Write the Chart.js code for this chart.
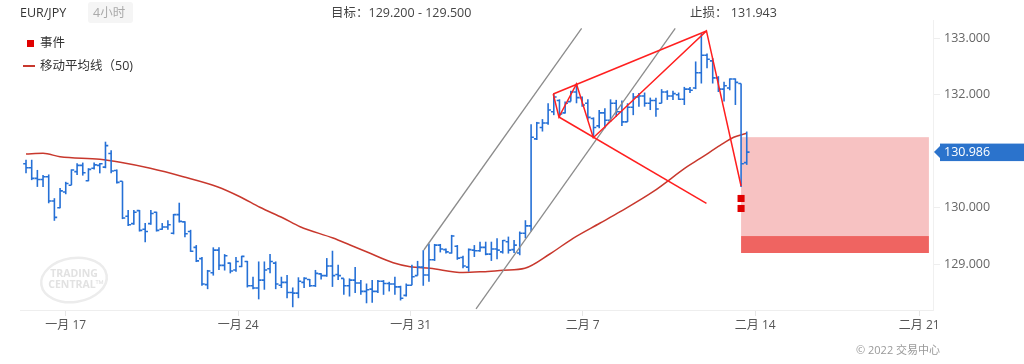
<!DOCTYPE html>
<html><head><meta charset="utf-8">
<script src="https://cdn.jsdelivr.net/npm/chart.js@4/dist/chart.umd.min.js"></script>
<style>
html,body{margin:0;padding:0;background:#fff;width:1024px;height:364px;overflow:hidden;font-family:'Open Sans','Noto Sans CJK SC',sans-serif;}
#wrap{position:relative;width:1024px;height:364px;}
canvas{position:absolute;left:0;top:0;}
.t{position:absolute;font-size:12px;white-space:nowrap;line-height:14px;}
</style></head><body>
<div id="wrap">
<canvas id="c" width="1024" height="364"></canvas>
<div class="t" style="left:20px;top:6px;color:#333;font-size:12.5px">EUR/JPY</div>
<div style="position:absolute;left:88px;top:2px;width:45px;height:21px;background:#f5f5f5;border-radius:3px;"></div>
<div class="t" style="left:93px;top:6px;color:#aaa;font-size:12.5px">4小时</div>
<div class="t" style="left:331px;top:6px;color:#444;font-size:12.5px">目标：129.200 - 129.500</div>
<div class="t" style="left:690px;top:6px;color:#444;font-size:12.5px">止损： 131.943</div>
<div style="position:absolute;left:27px;top:40px;width:7px;height:7px;background:#e00000;"></div>
<div class="t" style="left:40px;top:36px;color:#333;font-size:12.5px">事件</div>
<div style="position:absolute;left:23px;top:65px;width:12px;height:2px;background:#c8382d;"></div>
<div class="t" style="left:40px;top:59px;color:#333;font-size:12.5px">移动平均线（50)</div>
<div class="t" style="left:856px;top:343px;color:#999;font-size:11px">© 2022 交易中心</div>
</div>
<script>
// ---- data ----
const openV  = [130.78,130.71,130.52,130.50,130.55,130.12,130.00,130.28,130.40,130.64,130.75,130.48,130.70,130.75,130.72,130.96,130.66,130.47,129.85,129.72,
129.95,129.62,129.72,129.92,129.62,129.66,129.55,129.88,129.75,129.58,129.30,129.10,128.64,128.85,129.25,128.98,129.02,128.90,128.96,129.05,
128.62,128.58,128.72,128.92,129.02,128.63,128.68,128.50,128.49,128.68,128.73,128.62,128.83,128.80,128.97,128.82,128.75,128.62,128.72,128.67,
128.52,128.56,128.52,128.70,128.66,128.65,128.60,128.45,128.63,128.80,128.95,128.81,129.08,129.34,129.26,129.20,129.32,129.12,128.95,129.25,
129.24,129.30,129.18,129.27,129.22,129.40,129.26,129.20,129.55,129.68,131.22,131.42,131.50,131.70,131.90,131.68,131.88,132.05,131.95,131.85,
131.58,131.45,131.68,131.55,131.85,131.70,131.52,131.78,131.96,131.98,131.85,131.90,131.85,132.05,131.98,132.00,131.92,132.10,132.12,132.39,
132.70,132.60,132.30,132.10,132.12,132.28,132.20,130.80];
const highV  = [130.85,130.85,130.67,130.58,130.59,130.17,130.35,130.46,130.68,130.79,130.80,130.70,130.80,130.79,131.17,131.02,130.68,130.47,129.96,129.96,
129.96,129.73,129.96,129.93,129.73,129.78,129.89,130.09,129.76,129.61,129.34,129.13,128.90,129.30,129.30,129.18,129.03,129.13,129.15,129.06,
128.78,129.05,129.05,129.18,129.05,128.78,128.81,128.59,128.77,128.77,128.74,128.90,128.84,129.11,129.24,128.99,128.75,128.75,128.95,128.72,
128.66,128.72,128.72,128.72,128.69,128.78,128.62,128.66,128.99,129.06,129.25,129.37,129.36,129.36,129.28,129.52,129.34,129.15,129.28,129.34,
129.40,129.40,129.40,129.46,129.43,129.49,129.43,129.58,129.78,131.48,131.52,131.57,131.85,132.02,131.92,131.88,132.07,132.20,131.97,131.92,
131.60,131.73,131.76,131.92,131.91,131.90,131.85,132.03,132.03,132.04,131.95,131.95,132.10,132.08,132.07,132.04,132.14,132.14,132.59,133.09,
132.73,132.65,132.33,132.23,132.29,132.29,132.20,131.35];
const lowV   = [130.61,130.49,130.37,130.37,130.08,129.77,129.99,130.24,130.40,130.58,130.57,130.47,130.68,130.61,130.70,130.61,130.43,129.80,129.68,129.70,
129.58,129.39,129.70,129.58,129.61,129.61,129.53,129.74,129.48,129.22,129.04,128.62,128.56,128.80,128.90,128.89,128.84,128.87,128.95,128.59,
128.56,128.38,128.55,128.84,128.56,128.58,128.40,128.24,128.40,128.58,128.60,128.60,128.73,128.78,128.60,128.72,128.46,128.43,128.49,128.46,
128.31,128.32,128.49,128.46,128.52,128.46,128.36,128.43,128.63,128.80,128.62,128.69,129.06,129.21,129.19,129.19,129.08,128.93,128.87,129.13,
129.22,129.16,129.06,129.09,129.19,129.19,129.20,129.16,129.46,129.58,131.20,131.35,131.47,131.64,131.61,131.67,131.88,131.85,131.79,131.56,
131.24,131.41,131.41,131.52,131.61,131.45,131.52,131.64,131.79,131.79,131.73,131.61,131.85,131.91,131.91,131.91,131.82,132.03,132.10,132.20,
132.47,132.20,132.05,131.88,132.08,131.82,130.37,130.76];
const closeV = [130.71,130.52,130.50,130.55,130.12,129.83,130.30,130.43,130.67,130.75,130.62,130.68,130.76,130.78,131.10,130.65,130.45,129.82,129.70,129.92,
129.60,129.58,129.90,129.60,129.66,129.70,129.88,129.76,129.54,129.23,129.06,128.65,128.88,129.25,128.98,129.15,128.88,129.05,129.14,128.62,
128.58,128.72,128.90,129.05,128.65,128.68,128.50,128.49,128.70,128.75,128.62,128.84,128.80,128.97,128.80,128.80,128.62,128.72,128.67,128.52,
128.55,128.52,128.70,128.66,128.65,128.60,128.40,128.63,128.78,128.95,128.81,129.08,129.34,129.27,129.22,129.50,129.11,128.97,129.26,129.24,
129.30,129.18,129.27,129.25,129.42,129.25,129.34,129.55,129.68,131.25,131.50,131.50,131.73,131.96,131.66,131.85,132.05,131.95,131.82,131.60,
131.42,131.68,131.55,131.85,131.70,131.52,131.78,131.96,131.98,131.85,131.90,131.75,132.05,131.98,132.02,131.92,132.10,132.08,132.39,132.70,
132.63,132.30,132.10,132.16,132.28,132.22,130.78,130.986];

// moving average (50), read at bar positions
const maX = [0,3,6,13,16.6,21.9,27.7,33.7,37.7,41.2,45.3,48.3,54.1,57.1,60.1,64.7,67.7,71.2,77,80.5,84.1,87.9,92.3,96.4,101.1,104.7,110.5,116.5,118.8,122.3,124.7,127];
const maV = [130.952,130.965,130.904,130.858,130.805,130.699,130.550,130.373,130.196,130.009,129.819,129.665,129.465,129.342,129.218,129.028,128.958,128.929,128.855,128.869,128.894,128.929,129.182,129.460,129.726,129.931,130.285,130.727,130.873,131.103,131.248,131.319];

// x-axis ticks (bar index of week start) and labels
const tickPos = [7,37.4,67.8,98.1,128.5,157.4];
const tickLabels = ['一月 17','一月 24','一月 31','二月 7','二月 14','二月 21'];
const yTicks = [129,130,131,132,133];

// drawn objects (bar index, price)
const channelA = [{x:70.1,y:129.253},{x:97.9,y:133.177}];
const channelB = [{x:79.3,y:128.209},{x:114.4,y:133.177}];
const zigzag = [{x:92.9,y:132.014},{x:93.9,y:131.607},{x:97.0,y:132.191},{x:99.96,y:131.241},{x:119.9,y:133.13},{x:126.0,y:130.386}];
const upperLine = [{x:92.9,y:132.014},{x:119.9,y:133.13}];
const lowerLine = [{x:93.9,y:131.607},{x:119.9,y:130.08}];
const eventX = [126,126];
const eventY = [130.165,129.988];
const zoneStart = 126, zoneEnd = 159.1;
const stopZone = [129.5,131.25];
const targetZone = [129.2,129.5];
const lastPrice = 130.986;

const BLUE = '#2570d6';

const plug = {
  id:'tc',
  beforeDatasetsDraw(chart){
    const {ctx, scales:{x,y}} = chart;
    ctx.save();
    // watermark
    ctx.strokeStyle='#ececec'; ctx.lineWidth=2.5;
    ctx.beginPath(); ctx.ellipse(74,280,33,22,-0.15,0,Math.PI*2); ctx.stroke();
    ctx.fillStyle='#e2e2e2'; ctx.font='bold 10.5px "Open Sans",sans-serif';
    ctx.textAlign='center'; ctx.textBaseline='middle';
    ctx.fillText('TRADING',74,274); ctx.fillText('CENTRAL™',76,285);
    // zones
    const x0=x.getPixelForValue(zoneStart), x1=x.getPixelForValue(zoneEnd);
    let ya=y.getPixelForValue(stopZone[1]), yb=y.getPixelForValue(stopZone[0]);
    ctx.fillStyle='#f7c2c2'; ctx.fillRect(x0,ya,x1-x0,yb-ya);
    ya=y.getPixelForValue(targetZone[1]); yb=y.getPixelForValue(targetZone[0]);
    ctx.fillStyle='#ef6461'; ctx.fillRect(x0,ya,x1-x0,yb-ya);
    ctx.restore();
  },
  afterDatasetDraw(chart,args){
    if(args.index!==0) return;
    const {ctx, scales:{x,y}} = chart;
    ctx.save();
    ctx.strokeStyle=BLUE;
    for(let i=0;i<openV.length;i++){
      const px=x.getPixelForValue(i);
      ctx.lineWidth=1.6;
      ctx.beginPath();
      ctx.moveTo(px,y.getPixelForValue(highV[i]));
      ctx.lineTo(px,y.getPixelForValue(lowV[i]));
      ctx.stroke();
      ctx.lineWidth=1.6;
      const yo=y.getPixelForValue(openV[i]), yc=y.getPixelForValue(closeV[i]);
      ctx.beginPath();
      ctx.moveTo(px-2.8,yo); ctx.lineTo(px,yo);
      ctx.moveTo(px,yc); ctx.lineTo(px+2.8,yc);
      ctx.stroke();
    }
    ctx.restore();
  },
  afterDraw(chart){
    const {ctx, scales:{y}, chartArea} = chart;
    const yp=y.getPixelForValue(lastPrice);
    const lx=chartArea.right+7;
    ctx.save();
    ctx.fillStyle='#2b73cc';
    ctx.beginPath();
    ctx.moveTo(chartArea.right+1,yp);
    ctx.lineTo(lx,yp-6); ctx.lineTo(lx,yp+6); ctx.closePath(); ctx.fill();
    ctx.fillRect(lx,yp-8.5,1024-lx,17.5);
    ctx.fillStyle='#fff'; ctx.font='12.5px "Open Sans",sans-serif';
    ctx.textBaseline='middle'; ctx.textAlign='left';
    ctx.fillText(lastPrice.toFixed(3),lx+4,yp+0.5);
    ctx.restore();
  }
};

Chart.defaults.font.family = "'Open Sans','Noto Sans CJK SC',sans-serif";
new Chart(document.getElementById('c'),{
  type:'scatter',
  data:{datasets:[
    {data:maX.map((v,i)=>({x:v,y:maV[i]})),showLine:true,borderColor:'#c8382d',borderWidth:1.5,pointRadius:0,cubicInterpolationMode:'monotone',order:5},
    {data:channelA,showLine:true,borderColor:'#8c8c8c',borderWidth:1.3,pointRadius:0,order:3},
    {data:channelB,showLine:true,borderColor:'#8c8c8c',borderWidth:1.3,pointRadius:0,order:3},
    {data:zigzag,showLine:true,borderColor:'#ff1f1f',borderWidth:1.5,pointRadius:0,order:2},
    {data:upperLine,showLine:true,borderColor:'#ff1f1f',borderWidth:1.5,pointRadius:0,order:2},
    {data:lowerLine,showLine:true,borderColor:'#ff1f1f',borderWidth:1.5,pointRadius:0,order:2},
    {data:eventX.map((v,i)=>({x:v,y:eventY[i]})),pointStyle:'rect',pointRadius:5,pointBackgroundColor:'#e00000',pointBorderWidth:0,order:1}
  ]},
  options:{
    responsive:false, devicePixelRatio:1, animation:false,
    layout:{padding:{left:20,top:20,right:0,bottom:0}},
    plugins:{legend:{display:false},tooltip:{enabled:false}},
    scales:{
      x:{type:'linear',min:-1.06,max:159.82,
        afterBuildTicks:s=>{s.ticks=tickPos.map(v=>({value:v}));},
        ticks:{callback:(v,i)=>tickLabels[i],color:'#555',font:{size:12},maxRotation:0,autoSkip:false,padding:2},
        grid:{drawOnChartArea:false,color:'#e6e6e6',tickLength:6},
        border:{color:'#eeeeee'},
        afterFit:s=>{s.height=54;}
      },
      y:{position:'right',min:128.191,max:133.324,
        afterBuildTicks:s=>{s.ticks=yTicks.map(v=>({value:v}));},
        ticks:{callback:v=>v===131?'':v.toFixed(3),color:'#666',font:{size:12.5},padding:4,autoSkip:false},
        grid:{drawOnChartArea:false,color:'#eeeeee',tickLength:7},
        border:{color:'#f0f0f0'},
        afterFit:s=>{s.width=91;}
      }
    }
  },
  plugins:[plug]
});
</script>
</body></html>
